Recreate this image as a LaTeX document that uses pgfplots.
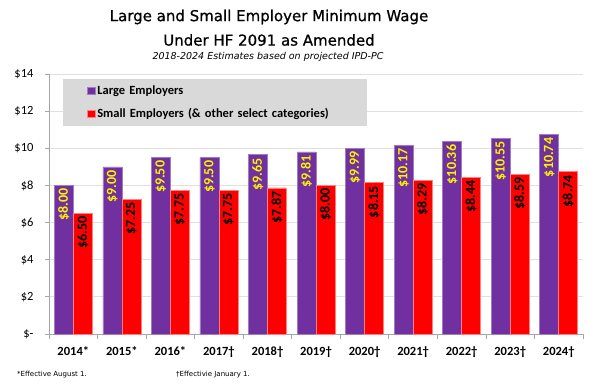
\documentclass[border=0pt]{standalone}
\usepackage{pgfplots}
\pgfplotsset{compat=1.18}
\usepackage{fontspec}
\setmainfont{Carlito}
\newfontfamily\titlefont{DejaVu Sans}
\newfontfamily\titleheavy[FakeBold=0.8]{DejaVu Sans}
\definecolor{lgpurple}{HTML}{7030A0}
\definecolor{lgpurpleedge}{HTML}{A07CC0}
\definecolor{smred}{HTML}{FF0000}
\definecolor{smrededge}{HTML}{FF8080}
\definecolor{legfill}{HTML}{D9D9D9}
\definecolor{axgray}{HTML}{A6A6A6}
\definecolor{gridgray}{HTML}{E0E0E0}
\begin{document}
\begin{tikzpicture}
\path[use as bounding box] (0pt,0pt) rectangle (599pt,388pt);
\begin{axis}[
  at={(49pt,54pt)}, anchor=south west,
  scale only axis, width=534pt, height=260pt,
  /pgf/number format/assume math mode=true,
  ybar=0pt, bar width=19pt,
  xmin=-0.5, xmax=10.5, ymin=0, ymax=14,
  axis lines*=left,
  axis line style={axgray, line width=0.8pt},
  ytick={0,2,...,14},
  yticklabels={\$-,\$2,\$4,\$6,\$8,\$10,\$12,\$14},
  xtick={0,...,10},
  xticklabels={2014*,2015*,2016*,2017†,2018†,2019†,2020†,2021†,2022†,2023†,2024†},
  x tick label style={font=\fontsize{12.5}{14}\selectfont\bfseries, yshift=-5pt},
  y tick label style={font=\fontsize{12.5}{14}\selectfont, xshift=-8pt},
  major x tick style={draw=none},
  minor xtick={-0.5,0.5,...,10.5},
  minor x tick style={axgray, line width=0.8pt},
  minor tick length=5pt,
  major tick length=4pt,
  y tick style={axgray, line width=0.8pt},
  tick align=outside, tick pos=left,
  ymajorgrids, grid style={gridgray, line width=0.8pt},
  legend style={at={(0.0262,0.981)}, anchor=north west, fill=legfill, draw=none,
    font=\fontsize{12.5}{14}\selectfont\bfseries, inner xsep=24pt, inner ysep=5pt,
    row sep=8pt,
    nodes={text width=244pt, align=left, inner sep=2pt}},
  legend cell align=left,
  legend image code/.code={\fill[#1] (0pt,-3.5pt) rectangle (7.5pt,3.5pt);},
  nodes near coords={\$\pgfmathprintnumber[fixed, fixed zerofill, precision=2]{\pgfplotspointmeta}},
  every node near coord/.append style={rotate=90, anchor=east, inner sep=3pt,
    font=\fontsize{14}{16}\selectfont\bfseries},
]
\addplot[fill=lgpurple, draw=lgpurpleedge, line width=0.6pt,
  every node near coord/.append style={text=yellow}]
  coordinates {(0,8.00) (1,9.00) (2,9.50) (3,9.50) (4,9.65) (5,9.81) (6,9.99) (7,10.17) (8,10.36) (9,10.55) (10,10.74)};
\addplot[fill=smred, draw=smrededge, line width=0.6pt,
  every node near coord/.append style={text=black}]
  coordinates {(0,6.50) (1,7.25) (2,7.75) (3,7.75) (4,7.87) (5,8.00) (6,8.15) (7,8.29) (8,8.44) (9,8.59) (10,8.74)};
\legend{Large Employers, Small Employers (\& other select categories)}
\end{axis}
\node[font=\titleheavy\fontsize{15}{17}\selectfont] at (269pt,371pt) {Large and Small Employer Minimum Wage};
\node[font=\titleheavy\fontsize{15}{17}\selectfont] at (269pt,348pt) {Under HF 2091 as Amended};
\node[font=\titlefont\itshape\fontsize{9.5}{11}\selectfont] at (268pt,331pt) {2018-2024 Estimates based on projected IPD-PC};
\node[font=\titlefont\fontsize{7}{8}\selectfont, anchor=west, inner sep=0pt] at (17pt,13pt) {*Effective August 1.};
\node[font=\titlefont\fontsize{7}{8}\selectfont, anchor=west, inner sep=0pt] at (176pt,13pt) {†Effectivie January 1.};
\end{tikzpicture}
\end{document}
